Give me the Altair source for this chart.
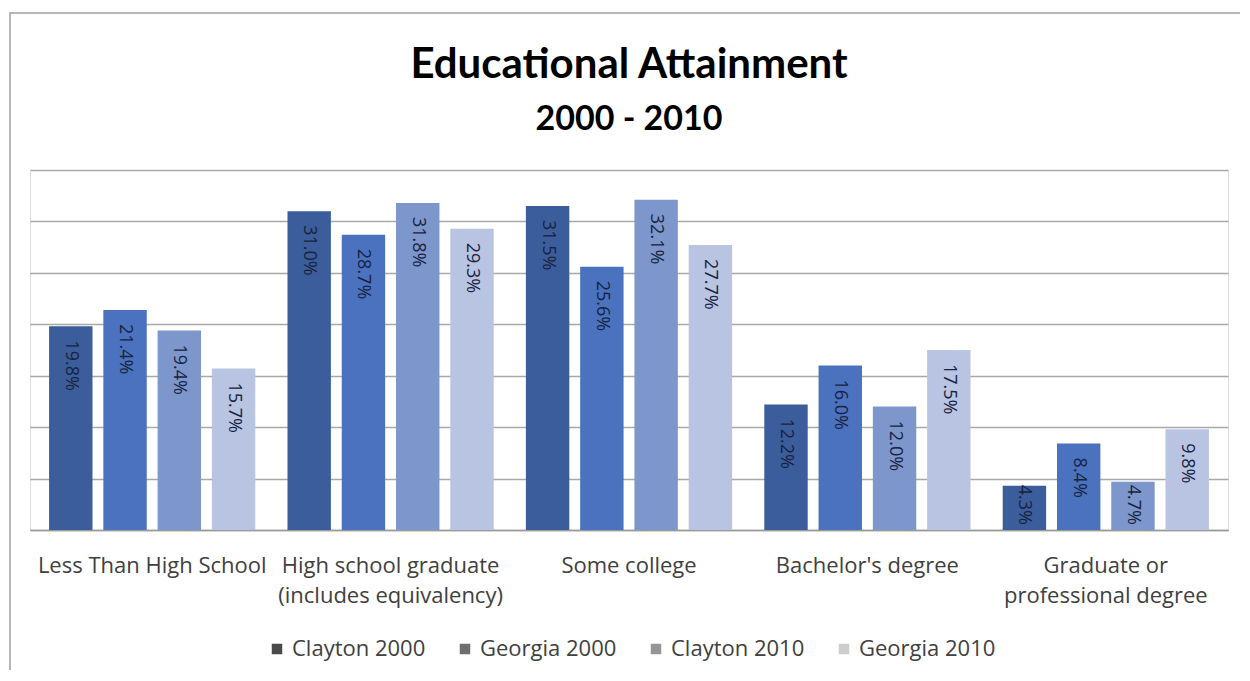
import altair as alt
import pandas as pd

categories = [
    "Less Than High School",
    "High school graduate\n(includes equivalency)",
    "Some college",
    "Bachelor's degree",
    "Graduate or\nprofessional degree",
]
series = ["Clayton 2000", "Georgia 2000", "Clayton 2010", "Georgia 2010"]
clayton_2000 = [19.8, 31.0, 31.5, 12.2, 4.3]
georgia_2000 = [21.4, 28.7, 25.6, 16.0, 8.4]
clayton_2010 = [19.4, 31.8, 32.1, 12.0, 4.7]
georgia_2010 = [15.7, 29.3, 27.7, 17.5, 9.8]
bar_colors = ["#3c5d9c", "#4a72bf", "#7d96cc", "#b8c4e2"]
legend_colors = ["#4a4a4a", "#6e6e6e", "#959595", "#cdcdcd"]
grid_values = [0, 5, 10, 15, 20, 25, 30, 35]

rows = []
for s, vals in zip(series, [clayton_2000, georgia_2000, clayton_2010, georgia_2010]):
    for c, v in zip(categories, vals):
        rows.append({"category": c, "series": s, "value": v})
df = pd.DataFrame(rows)

FONT = "Open Sans"
TFONT = "Lato"

x_enc = alt.X(
    "category:N",
    sort=categories,
    scale=alt.Scale(paddingInner=0.135, paddingOuter=0.08),
    axis=alt.Axis(
        title=None,
        labelAngle=0,
        labelExpr="split(datum.label, '\\n')",
        labelFontSize=22,
        labelFont=FONT,
        labelColor="#404040",
        labelPadding=35,
        labelLineHeight=30,
        labelLimit=400,
        ticks=False,
        domainColor="#9a9a9a",
        domainWidth=1.3,
        labelBaseline="middle",
    ),
)
xoff = alt.XOffset("series:N", sort=series, scale=alt.Scale(paddingInner=0.2))
y_enc = alt.Y(
    "value:Q",
    scale=alt.Scale(domain=[0, 35], nice=False),
    axis=alt.Axis(
        title=None,
        labels=False,
        ticks=False,
        domain=False,
        values=grid_values,
        grid=True,
        gridColor="#a8a8a8",
        gridWidth=1.3,
    ),
)

base = alt.Chart(df)

bars = base.mark_bar().encode(
    x=x_enc,
    xOffset=xoff,
    y=y_enc,
    color=alt.Color("series:N", sort=series, scale=alt.Scale(domain=series, range=bar_colors), legend=None),
)

labels_top = (
    base.transform_filter("datum.value >= 6")
    .transform_calculate(label="format(datum.value, '.1f') + '%'")
    .mark_text(angle=90, align="left", baseline="middle", dx=14, fontSize=18, font=FONT, color="#17233f")
    .encode(x=x_enc, xOffset=xoff, y=y_enc, text="label:N")
)

labels_low = (
    base.transform_filter("datum.value < 6")
    .transform_calculate(label="format(datum.value, '.1f') + '%'", zero="0")
    .mark_text(angle=90, align="right", baseline="middle", dx=-5, fontSize=18, font=FONT, color="#17233f")
    .encode(x=x_enc, xOffset=xoff, y=alt.Y("zero:Q", scale=alt.Scale(domain=[0, 35], nice=False)), text="label:N")
)

legend_layer = base.mark_square(opacity=0, size=0).encode(
    x=x_enc,
    y=y_enc,
    color=alt.Color(
        "series:N",
        sort=series,
        scale=alt.Scale(domain=series, range=legend_colors),
        legend=alt.Legend(
            title=None,
            orient="none",
            legendX=236,
            legendY=468,
            direction="horizontal",
            columns=4,
            symbolType="square",
            symbolSize=110,
            symbolOpacity=1,
            symbolStrokeWidth=0,
            labelFontSize=22,
            labelFont=FONT,
            labelColor="#404040",
            labelOffset=4,
            columnPadding=28,
        ),
    ),
)

frame = alt.Chart(pd.DataFrame({"f": [0]})).mark_rect(
    fill=None, stroke="#a0a0a0", strokeWidth=1.5
).encode(x=alt.value(-20), x2=alt.value(1240), y=alt.value(-157), y2=alt.value(520))

chart = (
    alt.layer(frame, bars, labels_top, labels_low, legend_layer)
    .resolve_scale(color="independent")
    .properties(
        width=1198,
        height=360,
        autosize=alt.AutoSizeParams(type="none"),
        padding={"left": 22, "top": 162, "right": 12, "bottom": 140},
        title=alt.TitleParams(
            "Educational Attainment",
            subtitle="2000 - 2010",
            font=TFONT,
            fontSize=42,
            fontWeight="bold",
            color="#000000",
            subtitleFont=TFONT,
            subtitleFontSize=34,
            subtitleFontWeight="bold",
            subtitleColor="#000000",
            subtitlePadding=16,
            offset=-126,
            anchor="middle",
        ),
    )
    .configure_view(stroke=None)
    .configure(background="white")
)

chart.save("out.html", embed_options={"renderer": "svg", "actions": False})
